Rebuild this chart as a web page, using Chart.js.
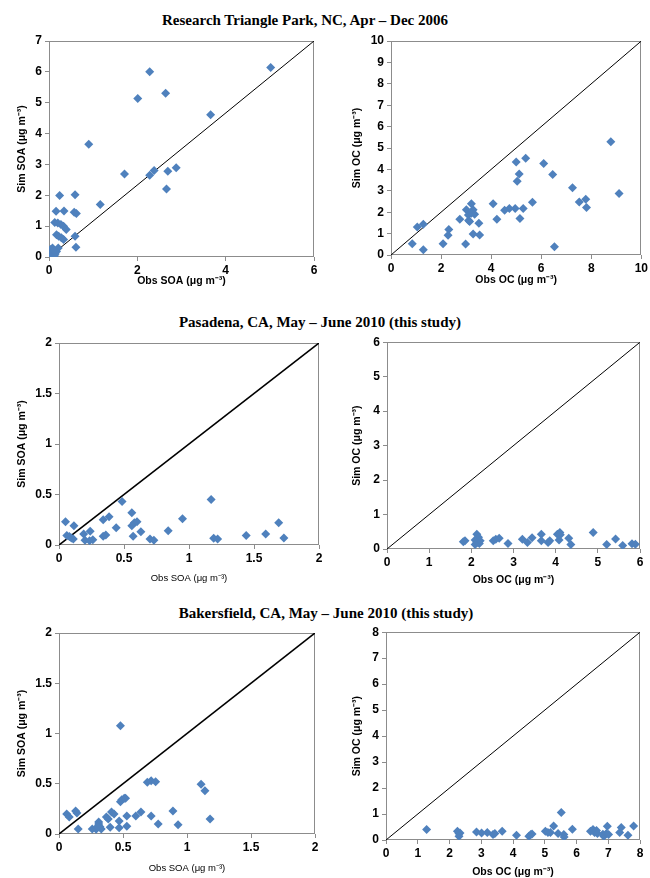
<!DOCTYPE html>
<html>
<head>
<meta charset="utf-8">
<script src="https://cdn.jsdelivr.net/npm/chart.js@4.4.1/dist/chart.umd.min.js"></script>
<style>
body { margin: 0; background: #fff; width: 650px; height: 878px; position: relative; overflow: hidden; }
canvas { position: absolute; }
.ttl { position: absolute; font: bold 15px "Liberation Serif", "Times New Roman", serif; white-space: nowrap; transform: translate(-50%, -50%); color: #000; }
</style>
</head>
<body>
<div class="ttl" style="left:305px;top:20px">Research Triangle Park, NC, Apr – Dec 2006</div>
<div class="ttl" style="left:320px;top:322px">Pasadena, CA, May – June 2010 (this study)</div>
<div class="ttl" style="left:326px;top:613px">Bakersfield, CA, May – June 2010 (this study)</div>
<canvas id="c1"></canvas>
<canvas id="c2"></canvas>
<canvas id="c3"></canvas>
<canvas id="c4"></canvas>
<canvas id="c5"></canvas>
<canvas id="c6"></canvas>
<script>
// Research Triangle Park, SOA
const rtpSoaObs = [5.02, 2.28, 2.64, 2.01, 3.66, 0.90, 2.88, 2.38, 2.69, 2.28, 1.71, 2.66, 1.16, 0.24, 0.59, 0.16, 0.34, 0.57, 0.62, 0.13, 0.20, 0.27, 0.33, 0.39, 0.17, 0.22, 0.28, 0.33, 0.59, 0.61, 0.08, 0.03, 0.10, 0.17, 0.12, 0.08, 0.02, 0.21, 0.05, 0.14, 0.11];
const rtpSoaSim = [6.14, 6.00, 5.31, 5.14, 4.61, 3.65, 2.89, 2.80, 2.78, 2.65, 2.69, 2.20, 1.70, 1.99, 2.02, 1.48, 1.49, 1.45, 1.41, 1.12, 1.10, 1.05, 1.00, 0.89, 0.72, 0.67, 0.62, 0.57, 0.67, 0.32, 0.29, 0.24, 0.13, 0.18, 0.04, 0.07, 0.13, 0.29, 0.02, 0.10, 0.22];
// Research Triangle Park, OC
const rtpOcObs = [8.78, 9.11, 7.25, 7.78, 7.52, 7.81, 6.10, 6.46, 6.53, 5.38, 5.00, 5.12, 5.04, 5.28, 5.65, 5.15, 4.96, 4.73, 4.54, 4.08, 4.23, 3.21, 3.28, 3.01, 3.09, 3.34, 3.10, 3.21, 3.14, 3.51, 3.28, 3.54, 2.98, 2.75, 2.31, 2.28, 2.08, 1.29, 1.05, 1.29, 0.85];
const rtpOcSim = [5.29, 2.87, 3.14, 2.61, 2.48, 2.22, 4.27, 3.76, 0.39, 4.52, 4.35, 3.79, 3.45, 2.17, 2.46, 1.70, 2.17, 2.17, 2.09, 2.40, 1.67, 2.40, 2.11, 2.11, 1.87, 1.90, 1.61, 1.95, 1.56, 1.48, 0.98, 0.94, 0.51, 1.67, 1.19, 0.92, 0.53, 1.44, 1.31, 0.25, 0.53];
// Pasadena, SOA
const pasSoaObs = [0.05, 0.06, 0.08, 0.115, 0.095, 0.11, 0.19, 0.20, 0.24, 0.235, 0.26, 0.34, 0.34, 0.36, 0.385, 0.44, 0.485, 0.56, 0.56, 0.58, 0.60, 0.57, 0.63, 0.70, 0.73, 0.84, 0.95, 1.17, 1.19, 1.22, 1.44, 1.59, 1.69, 1.73];
const pasSoaSim = [0.23, 0.095, 0.085, 0.19, 0.07, 0.06, 0.11, 0.046, 0.135, 0.043, 0.053, 0.25, 0.086, 0.10, 0.28, 0.17, 0.43, 0.32, 0.19, 0.22, 0.23, 0.086, 0.13, 0.06, 0.046, 0.14, 0.26, 0.45, 0.066, 0.059, 0.095, 0.11, 0.22, 0.069];
// Pasadena, OC
const pasOcObs = [1.81, 1.85, 2.13, 2.17, 2.09, 2.21, 2.13, 2.19, 2.09, 2.52, 2.58, 2.66, 2.87, 3.21, 3.33, 3.44, 3.66, 3.66, 3.82, 3.86, 4.04, 4.10, 4.11, 4.08, 4.31, 4.36, 4.89, 5.21, 5.42, 5.59, 5.81, 5.89];
const pasOcSim = [0.21, 0.24, 0.43, 0.34, 0.26, 0.24, 0.18, 0.16, 0.13, 0.24, 0.28, 0.31, 0.16, 0.28, 0.19, 0.33, 0.43, 0.24, 0.19, 0.24, 0.43, 0.48, 0.41, 0.26, 0.31, 0.13, 0.48, 0.13, 0.29, 0.10, 0.15, 0.14];
// Bakersfield, SOA
const bakSoaObs = [0.06, 0.08, 0.13, 0.14, 0.15, 0.26, 0.29, 0.31, 0.31, 0.32, 0.33, 0.30, 0.37, 0.385, 0.40, 0.41, 0.43, 0.47, 0.47, 0.48, 0.49, 0.51, 0.52, 0.48, 0.53, 0.53, 0.60, 0.64, 0.69, 0.72, 0.755, 0.72, 0.775, 0.89, 0.93, 1.11, 1.14, 1.18];
const bakSoaSim = [0.20, 0.17, 0.23, 0.21, 0.05, 0.05, 0.047, 0.12, 0.10, 0.073, 0.05, 0.073, 0.17, 0.15, 0.066, 0.22, 0.20, 0.13, 0.063, 0.32, 0.34, 0.355, 0.355, 1.076, 0.18, 0.076, 0.18, 0.22, 0.515, 0.53, 0.52, 0.18, 0.10, 0.23, 0.093, 0.495, 0.43, 0.15];
// Bakersfield, OC
const bakOcObs = [1.28, 2.25, 2.30, 2.33, 2.30, 2.85, 3.01, 3.19, 3.37, 3.43, 3.66, 4.11, 4.50, 4.56, 4.60, 5.02, 5.10, 5.18, 5.28, 5.42, 5.52, 5.60, 5.61, 5.87, 6.44, 6.52, 6.57, 6.63, 6.66, 6.83, 6.86, 6.94, 6.97, 7.01, 7.36, 7.41, 7.62, 7.80];
const bakOcSim = [0.40, 0.34, 0.25, 0.27, 0.14, 0.31, 0.27, 0.29, 0.21, 0.25, 0.34, 0.18, 0.14, 0.21, 0.23, 0.34, 0.29, 0.29, 0.54, 0.25, 1.06, 0.21, 0.12, 0.41, 0.34, 0.40, 0.29, 0.37, 0.25, 0.22, 0.14, 0.25, 0.53, 0.21, 0.29, 0.48, 0.18, 0.54];

// tick labels
const rtpSoaTicksX = [0, 2, 4, 6];
const rtpSoaTicksY = [0, 1, 2, 3, 4, 5, 6, 7];
const rtpOcTicksX = [0, 2, 4, 6, 8, 10];
const rtpOcTicksY = [0, 1, 2, 3, 4, 5, 6, 7, 8, 9, 10];
const soaTicks2 = [0, 0.5, 1, 1.5, 2];
const pasOcTicks = [0, 1, 2, 3, 4, 5, 6];
const bakOcTicks = [0, 1, 2, 3, 4, 5, 6, 7, 8];

const unit = " (\u03bcg m\u207b\u00b3)";
const BLUE = "#4F81BD";
const GREY = "#8c8c8c";

const frame = {
    id: "frame",
    beforeDatasetsDraw(chart) {
        const a = chart.chartArea, c = chart.ctx;
        c.save();
        c.strokeStyle = GREY;
        c.lineWidth = 1;
        c.strokeRect(Math.round(a.left) + 0.5, Math.round(a.top) + 0.5, Math.round(a.width) - 1, Math.round(a.height) - 1);
        c.restore();
    }
};

function makePanel(id, box, plot, t, obs, sim, xTicks, yTicks) {
    const cv = document.getElementById(id);
    cv.width = box.w; cv.height = box.h;
    cv.style.left = box.x + "px"; cv.style.top = box.y + "px";

    const yFont = { family: "Liberation Sans", size: 10.5, weight: "bold", lineHeight: 1.2 };
    const xFont = t.xFont || yFont;
    const yLh = yFont.size * 1.2, xLh = xFont.size * 1.2;
    const padLeft = t.yx - yLh / 2 - box.x;
    const yWidth = plot.l - box.x - padLeft;
    const padTop = plot.t - box.y;
    const padRight = box.x + box.w - plot.r;
    const padBottom = box.y + box.h - (t.xy + xLh / 2);
    const xHeight = t.xy + xLh / 2 - plot.b;
    const maxX = xTicks[xTicks.length - 1], maxY = yTicks[yTicks.length - 1];
    const tickFont = { family: "Liberation Sans", size: 12, weight: "bold" };

    new Chart(cv.getContext("2d"), {
        type: "scatter",
        data: {
            datasets: [
                { data: obs.map((v, i) => ({ x: v, y: sim[i] })), backgroundColor: BLUE, borderWidth: 0,
                  pointStyle: "rectRot", pointRadius: 4.5, order: 0 },
                { type: "line", data: [{ x: 0, y: 0 }, { x: maxX, y: maxY }], borderColor: "#000",
                  borderWidth: t.lw || 1, pointRadius: 0, showLine: true, order: 1 }
            ]
        },
        options: {
            responsive: false,
            animation: false,
            layout: { padding: { left: padLeft, top: padTop, right: padRight, bottom: padBottom } },
            plugins: { legend: { display: false }, tooltip: { enabled: false } },
            scales: {
                x: {
                    type: "linear", min: 0, max: maxX,
                    afterBuildTicks: s => { s.ticks = xTicks.map(v => ({ value: v })); },
                    afterFit: s => { s.height = xHeight; },
                    border: { display: false },
                    grid: { drawOnChartArea: false, color: GREY, tickLength: 4 },
                    ticks: { font: tickFont, color: "#000", padding: 2, maxRotation: 0, callback: v => v },
                    title: { display: true, text: t.xt + unit, font: xFont, color: "#000", padding: 0 }
                },
                y: {
                    type: "linear", min: 0, max: maxY,
                    afterBuildTicks: s => { s.ticks = yTicks.map(v => ({ value: v })); },
                    afterFit: s => { s.width = yWidth; },
                    border: { display: false },
                    grid: { drawOnChartArea: false, color: GREY, tickLength: 4 },
                    ticks: { font: tickFont, color: "#000", padding: 3, callback: v => v },
                    title: { display: true, text: t.yt + unit, font: yFont, color: "#000", padding: 0 }
                }
            }
        },
        plugins: [frame]
    });
}

const smallX = { family: "Liberation Sans", size: 9.5, weight: "normal", lineHeight: 1.2 };

makePanel("c1", { x: 0, y: 30, w: 325, h: 270 }, { l: 49, t: 41, r: 314, b: 257 },
    { yx: 22, xy: 281, xt: "Obs SOA", yt: "Sim SOA" }, rtpSoaObs, rtpSoaSim, rtpSoaTicksX, rtpSoaTicksY);
makePanel("c2", { x: 325, y: 30, w: 325, h: 270 }, { l: 391, t: 41, r: 642, b: 255 },
    { yx: 357, xy: 280, xt: "Obs OC", yt: "Sim OC" }, rtpOcObs, rtpOcSim, rtpOcTicksX, rtpOcTicksY);
makePanel("c3", { x: 0, y: 332, w: 325, h: 258 }, { l: 59, t: 343, r: 319, b: 545 },
    { yx: 22, xy: 578, xt: "Obs SOA", yt: "Sim SOA", xFont: smallX, lw: 1.6 }, pasSoaObs, pasSoaSim, soaTicks2, soaTicks2);
makePanel("c4", { x: 325, y: 332, w: 325, h: 258 }, { l: 387, t: 342, r: 640, b: 549 },
    { yx: 357, xy: 580, xt: "Obs OC", yt: "Sim OC" }, pasOcObs, pasOcSim, pasOcTicks, pasOcTicks);
makePanel("c5", { x: 0, y: 622, w: 325, h: 256 }, { l: 59, t: 633, r: 315, b: 834 },
    { yx: 22, xy: 868, xt: "Obs SOA", yt: "Sim SOA", xFont: smallX, lw: 1.6 }, bakSoaObs, bakSoaSim, soaTicks2, soaTicks2);
makePanel("c6", { x: 325, y: 622, w: 325, h: 256 }, { l: 386, t: 632, r: 640, b: 840 },
    { yx: 357, xy: 872, xt: "Obs OC", yt: "Sim OC" }, bakOcObs, bakOcSim, bakOcTicks, bakOcTicks);
</script>
</body>
</html>
